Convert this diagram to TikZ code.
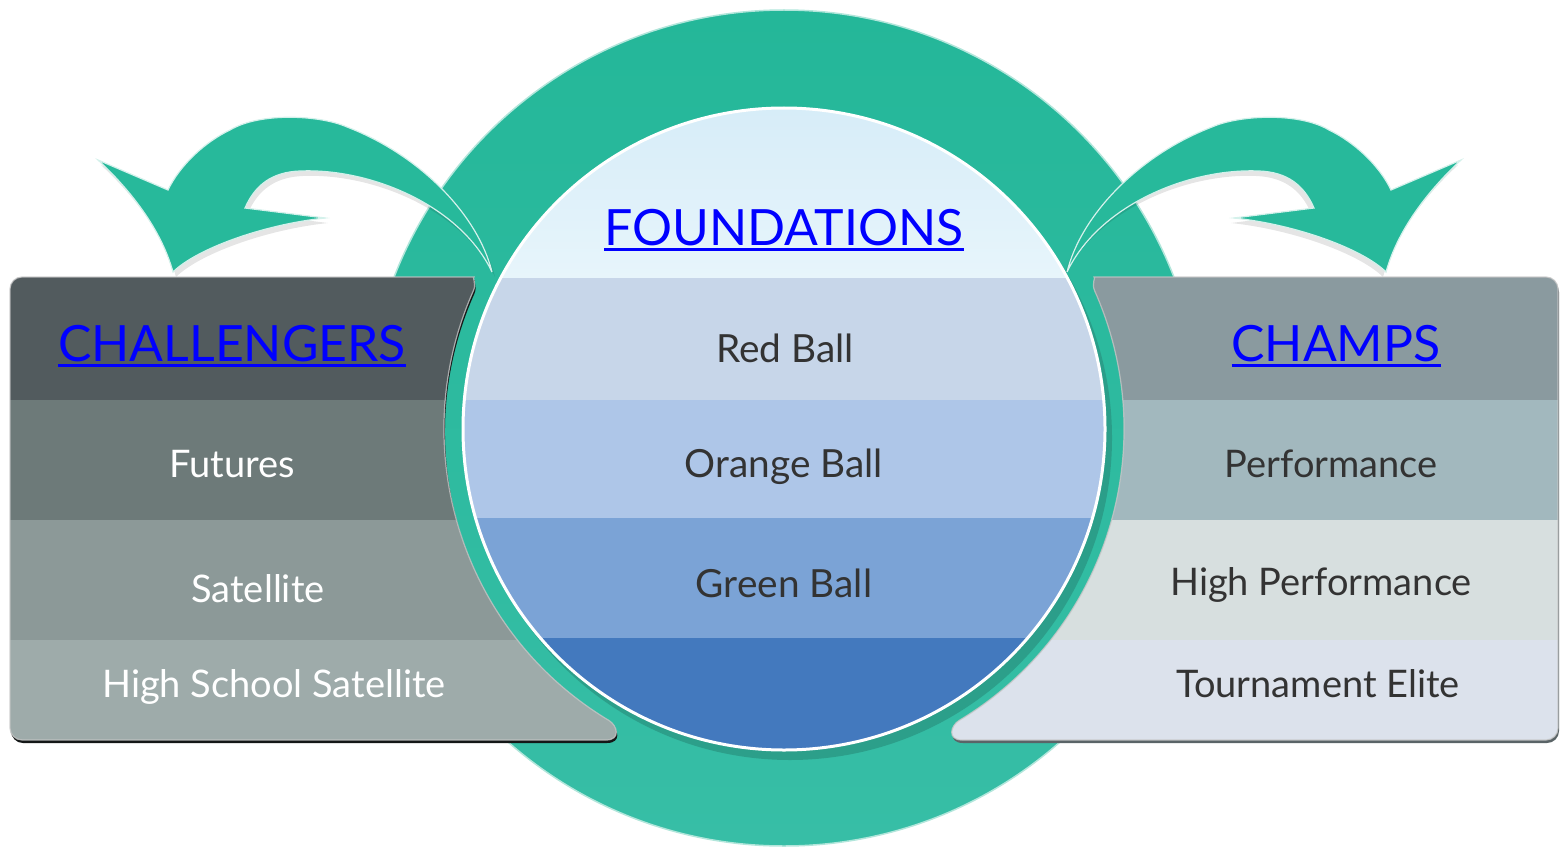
\documentclass[tikz,border=0pt]{standalone}
\usepackage{fontspec}
\setmainfont{Lato}
\definecolor{ringtop}{HTML}{24B799}
\definecolor{ringbot}{HTML}{37BEA6}
\definecolor{arrowteal}{HTML}{27B99B}
\definecolor{ringshadow}{HTML}{2A9582}
\definecolor{skytop}{HTML}{D6ECF8}
\definecolor{skybot}{HTML}{E7F5FB}
\definecolor{cbandA}{HTML}{C7D6E9}
\definecolor{cbandB}{HTML}{AEC6E8}
\definecolor{cbandC}{HTML}{7BA3D6}
\definecolor{cbandD}{HTML}{4379BE}
\definecolor{lhead}{HTML}{525B5E}
\definecolor{lrowA}{HTML}{6D7A79}
\definecolor{lrowB}{HTML}{8C9998}
\definecolor{lrowC}{HTML}{9EABAA}
\definecolor{rhead}{HTML}{8A9A9F}
\definecolor{rrowA}{HTML}{A2B8BE}
\definecolor{rrowB}{HTML}{D7DFDF}
\definecolor{rrowC}{HTML}{DCE2EC}
\definecolor{linkblue}{HTML}{0000FF}
\definecolor{darktext}{HTML}{333333}
\newcommand{\linkul}[1]{\setbox0=\hbox{#1}\rlap{\rule[-5.5pt]{\wd0}{2.4pt}}\box0}
\tikzset{
  headtext/.style={text=linkblue, font=\fontsize{50}{54}\selectfont, anchor=base, inner sep=0pt},
  rowtext/.style={font=\fontsize{38}{42}\selectfont, anchor=base, inner sep=0pt},
  balltext/.style={font=\fontsize{38.8}{42}\selectfont, anchor=base, inner sep=0pt, text=darktext},
  arrowshape/.style={fill=arrowteal, draw=white!80!arrowteal, line width=1.2pt},
  arrowshadow/.style={fill=black, opacity=0.1},
  arrowpath/.style={insert path={(492,272) .. controls (478,215) and (420,155) .. (347,127)
     .. controls (320,115) and (260,112) .. (230,130)
     .. controls (205,142) and (180,165) .. (168,190) -- (98,160)
     .. controls (125,185) and (160,225) .. (173,272)
     .. controls (195,250) and (260,225) .. (325,218) -- (245,208)
     .. controls (255,185) and (272,172) .. (300,171)
     .. controls (370,168) and (460,205) .. (492,272) -- cycle}},
  leftpanel/.style={insert path={(10,400) [rounded corners=12pt] -- (10,277) -- (462,277) [sharp corners]
     .. controls (472,277) and (476.7,283.4) .. (473.4,290.7)
     arc[start angle=204, end angle=121, radius=340]
     .. controls (617.5,725.6) and (621,740) .. (606,740) [rounded corners=12pt] -- (10,740) -- cycle}},
  rightpanel/.style={insert path={(1558,400) [rounded corners=12pt] -- (1558,277) -- (1106,277) [sharp corners]
     .. controls (1096,277) and (1091.3,283.4) .. (1094.6,290.7)
     arc[start angle=-24, end angle=59, radius=340]
     .. controls (950.5,725.6) and (947,740) .. (962,740) [rounded corners=12pt] -- (1558,740) -- cycle}},
}
\begin{document}
\begin{tikzpicture}[x=1pt,y=-1pt]
\useasboundingbox (0,0) rectangle (1562,848);
\coordinate (C) at (784,429);
% big ring
\shade[top color=ringtop, bottom color=ringbot] (784,428) circle (418);
\draw[white!65!ringtop, line width=1.5pt] (784,428) circle (418);
% shadow of inner disc
\fill[ringshadow, opacity=0.75] (790,438) circle (322);
% arrows
\fill[arrowshadow, shift={(3,5)}, arrowpath];
\path[arrowshape, arrowpath];
\begin{scope}[xshift=1559pt, xscale=-1]
  \fill[arrowshadow, shift={(3,5)}, arrowpath];
  \path[arrowshape, arrowpath];
\end{scope}
% left panel
\fill[black!75!lhead, shift={(1,3)}, leftpanel];
\begin{scope}
  \clip[leftpanel];
  \fill[lhead] (0,260) rectangle (700,400);
  \fill[lrowA] (0,400) rectangle (700,520);
  \fill[lrowB] (0,520) rectangle (700,640);
  \fill[lrowC] (0,640) rectangle (700,760);
\end{scope}
\draw[white!55!gray, line width=1.2pt, opacity=0.8, leftpanel];
% right panel
\fill[black!35!rhead, shift={(1,3)}, rightpanel];
\begin{scope}
  \clip[rightpanel];
  \fill[rhead] (900,260) rectangle (1570,400);
  \fill[rrowA] (900,400) rectangle (1570,520);
  \fill[rrowB] (900,520) rectangle (1570,640);
  \fill[rrowC] (900,640) rectangle (1570,760);
\end{scope}
\draw[white!55!gray, line width=1.2pt, opacity=0.8, rightpanel];
% inner disc
\begin{scope}
  \clip (C) circle (321);
  \shade[top color=skytop, bottom color=skybot] (440,100) rectangle (1130,278);
  \fill[cbandA] (440,278) rectangle (1130,400);
  \fill[cbandB] (440,400) rectangle (1130,518);
  \fill[cbandC] (440,518) rectangle (1130,638);
  \fill[cbandD] (440,638) rectangle (1130,760);
\end{scope}
\draw[white, line width=3pt] (C) circle (321);
% texts
\node[headtext] (found) at (784,245) {\linkul{FOUNDATIONS}};
\node[headtext] (chal) at (232,361) {\linkul{CHALLENGERS}};
\node[headtext] (champs) at (1336,361) {\linkul{CHAMPS}};
\node[balltext] (red) at (785,362) {Red Ball};
\node[balltext] (orange) at (784,477) {Orange Ball};
\node[balltext] (green) at (784,597) {Green Ball};
\node[rowtext, text=white] (fut) at (232,477) {Futures};
\node[rowtext, text=white] (sat) at (258,602) {Satellite};
\node[rowtext, text=white] (hss) at (274,697) {High School Satellite};
\node[rowtext, text=darktext] (perf) at (1331,477) {Performance};
\node[rowtext, text=darktext] (hperf) at (1321,595) {High Performance};
\node[rowtext, text=darktext] (tour) at (1318,697) {Tournament Elite};
\end{tikzpicture}
\end{document}
